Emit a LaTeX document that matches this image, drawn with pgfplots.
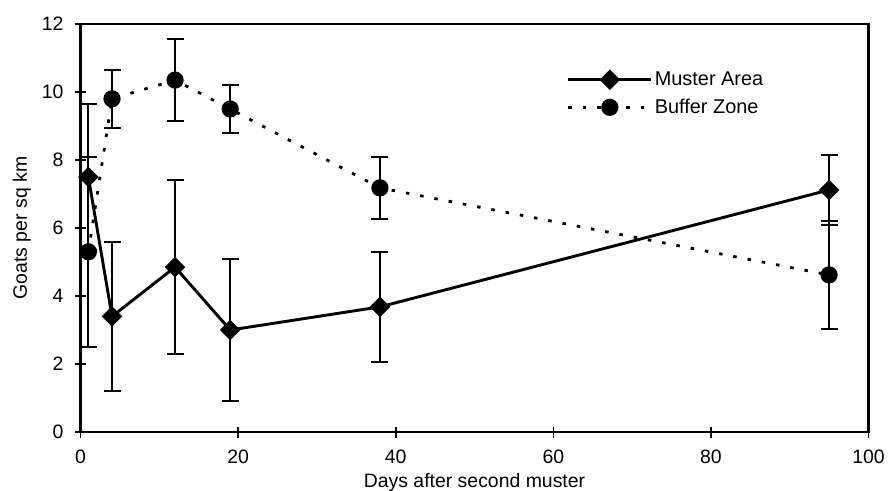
\documentclass[border=0pt]{standalone}
\usepackage{fontspec}
\setmainfont{Liberation Sans}
\usepackage{pgfplots}
\usepackage{pgfplotstable}
\pgfplotsset{compat=1.18}
\pgfplotstableread{
x y e
1 7.5 2.15
4 3.4 2.2
12 4.85 2.55
19 3.0 2.1
38 3.68 1.61
95 7.12 1.03
}\muster
\pgfplotstableread{
x y e
1 5.3 2.8
4 9.8 0.85
12 10.35 1.2
19 9.5 0.7
38 7.18 0.92
95 4.62 1.58
}\buffer
\begin{document}
\begin{tikzpicture}
\begin{axis}[
  scale only axis, width=788bp, height=408bp,
  at={(0,0)}, anchor=south west,
  xmin=0, xmax=100, ymin=0, ymax=12,
  xtick={0,20,...,100}, ytick={0,2,...,12},
  tick pos=left, tick align=center, major tick length=11bp,
  axis line style={line width=2.5bp},
  every tick/.style={line width=1.6bp, black},
  /pgf/number format/assume math mode=true,
  tick label style={font=\fontsize{19.5}{21}\selectfont},
  xticklabel style={anchor=base, yshift=-26bp},
  yticklabel style={anchor=east, xshift=-8bp},
  label style={font=\fontsize{19.5}{21}\selectfont},
  xlabel={Days after second muster},
  ylabel={Goats per sq km},
  xlabel style={at={(axis description cs:0.5,-0.135)}, anchor=base},
  ylabel style={at={(axis description cs:-0.0679,0.5)}, anchor=base},
  clip=false,
  legend style={draw=none, fill=none, at={(axis cs:61.7,9.95)}, anchor=west,
    font=\fontsize{20}{22}\selectfont, row sep=8bp, inner sep=0pt},
  legend cell align=left,
  legend image code/.code={
    \draw[mark repeat=2,mark phase=2,#1] plot coordinates {(0bp,0bp) (41.5bp,0bp) (83bp,0bp)};
  },
]
\addplot[black, line width=2.9bp, mark=square*, mark size=5.8bp,
  mark options={solid, rotate=45, fill=black},
  error bars/.cd, y dir=both, y explicit,
  error bar style={line width=2bp, solid},
  error mark options={rotate=90, mark size=8.5bp, line width=2bp}]
  table[x=x, y=y, y error=e]{\muster};
\addlegendentry{Muster Area}
\addplot[black, line width=2.8bp, dash pattern=on 3.5bp off 11bp, mark=*, mark size=7.2bp,
  mark options={solid, fill=black},
  error bars/.cd, y dir=both, y explicit,
  error bar style={line width=2bp, solid},
  error mark options={rotate=90, mark size=8.5bp, line width=2bp}]
  table[x=x, y=y, y error=e]{\buffer};
\addlegendentry{Buffer Zone}
\end{axis}
\pgfresetboundingbox
\path[use as bounding box] (-80.5bp,-59bp) rectangle (807.5bp,432bp);
\end{tikzpicture}
\end{document}
